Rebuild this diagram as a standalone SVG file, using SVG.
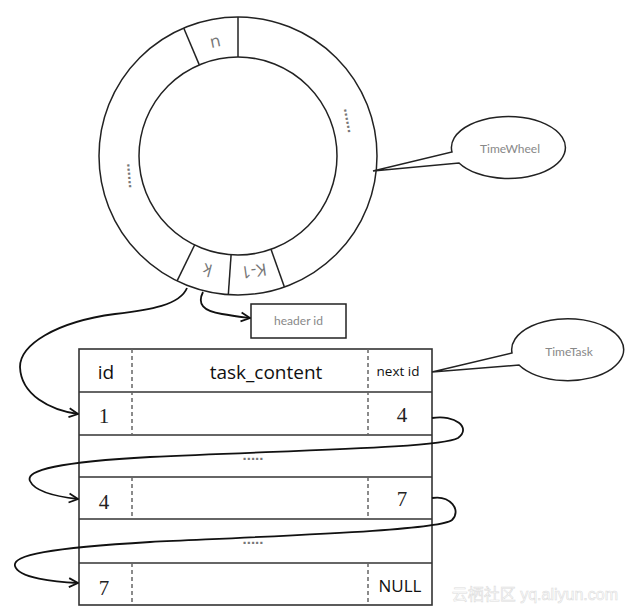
<svg xmlns="http://www.w3.org/2000/svg" width="627" height="615" viewBox="0 0 627 615">
<style>
.ln{fill:none;stroke:#222;stroke-width:1.5}
.tb{fill:none;stroke:#333;stroke-width:1.6}
.dash{stroke:#666;stroke-width:1.5;stroke-dasharray:4 3}
.lbl{font-family:Lato,"Open Sans",sans-serif;font-size:12px;fill:#888;text-anchor:middle}
.seg{font-family:"Open Sans","Liberation Sans",sans-serif;font-size:17px;fill:#777;text-anchor:middle}
.hd{font-family:"Open Sans","Liberation Sans",sans-serif;fill:#111;text-anchor:middle}
.num{font-family:"Liberation Serif",serif;font-size:21px;fill:#222;text-anchor:middle}
.dots{font-family:"Liberation Sans",sans-serif;font-size:15px;font-weight:bold;fill:#777;text-anchor:middle}
.conn{fill:none;stroke:#111;stroke-width:1.8}
</style>
<defs>
<marker id="arr" viewBox="0 0 12 12" refX="11" refY="6" markerWidth="12" markerHeight="12" markerUnits="userSpaceOnUse" orient="auto">
<path d="M2,1.5 L11,6 L2,10.5" fill="none" stroke="#111" stroke-width="1.8"/>
</marker>
</defs>
<rect width="627" height="615" fill="#fff"/>

<g id="timewheel">
<circle class="ln" cx="238" cy="156" r="139"/>
<circle class="ln" cx="238" cy="156" r="99"/>
<line class="ln" x1="238" y1="57" x2="238" y2="17"/>
<line class="ln" x1="199.3" y1="64.9" x2="183.7" y2="28"/>
<line class="ln" x1="194.6" y1="245" x2="177.1" y2="280.9"/>
<line class="ln" x1="231.1" y1="254.8" x2="228.3" y2="294.7"/>
<line class="ln" x1="271" y1="249.3" x2="284.4" y2="287"/>
<text class="seg" transform="translate(215,41) rotate(-12)" y="6">n</text>
<text class="seg" transform="translate(207.5,270) rotate(195)" y="6">k</text>
<text class="seg" transform="translate(254,271) rotate(172)" y="6">K-1</text>
<text class="dots" transform="translate(346,121) rotate(80)" y="0">......</text>
<text class="dots" transform="translate(128,176) rotate(85)" y="0">......</text>
</g>

<g id="timewheel-callout">
<path class="ln" d="M452,152 A57,31 0 1 1 459,163 L373,171 Z" fill="#fff"/>
<text class="lbl" x="510" y="153">TimeWheel</text>
</g>

<g id="header-id">
<rect class="ln" x="251" y="304" width="95" height="34" stroke-width="1.3"/>
<text class="lbl" x="298.5" y="325">header id</text>
</g>

<g id="timetask-table">
<rect class="tb" x="79" y="349" width="353" height="256"/>
<line class="tb" x1="79" y1="392" x2="432" y2="392"/>
<line class="tb" x1="79" y1="435" x2="432" y2="435"/>
<line class="tb" x1="79" y1="477" x2="432" y2="477"/>
<line class="tb" x1="79" y1="519" x2="432" y2="519"/>
<line class="tb" x1="79" y1="563" x2="432" y2="563"/>
<line class="dash" x1="132" y1="349" x2="132" y2="435"/>
<line class="dash" x1="368" y1="349" x2="368" y2="435"/>
<line class="dash" x1="132" y1="477" x2="132" y2="519"/>
<line class="dash" x1="368" y1="477" x2="368" y2="519"/>
<line class="dash" x1="132" y1="563" x2="132" y2="605"/>
<line class="dash" x1="368" y1="563" x2="368" y2="605"/>
<text class="hd" x="106" y="379" font-size="19">id</text>
<text class="hd" x="266" y="379" font-size="19">task_content</text>
<text class="hd" x="398" y="376" font-size="13.5">next id</text>
<text class="num" x="104" y="423">1</text>
<text class="num" x="402" y="422">4</text>
<text class="dots" x="253" y="460">.....</text>
<text class="num" x="104" y="509">4</text>
<text class="num" x="402" y="506">7</text>
<text class="dots" x="253" y="544">.....</text>
<text class="num" x="104" y="595">7</text>
<text class="hd" x="400" y="592" font-size="17">NULL</text>
</g>

<g id="timetask-callout">
<path class="ln" d="M512,353 A56,31 0 1 1 519,365 L432,372 Z" fill="#fff"/>
<text class="lbl" x="569" y="356">TimeTask</text>
</g>

<g id="connectors">
<path class="conn" marker-end="url(#arr)" d="M203,292 C197,304 203,311 222,314 C233,316 242,317 250,318"/>
<path class="conn" marker-end="url(#arr)" d="M187,288 C180,305 150,310 115,314 C55,322 20,345 20,367 C21,395 50,410 78,414"/>
<path class="conn" marker-end="url(#arr)" d="M432,418 C455,414 472,428 458,438 C440,448 300,450 150,457 C60,462 25,470 30,481 C35,492 60,497 78,499"/>
<path class="conn" marker-end="url(#arr)" d="M432,498 C450,495 462,510 452,520 C440,530 300,535 150,542 C50,548 12,555 15,566 C18,578 55,582 78,583"/>
</g>

<g id="watermark">
<text x="618" y="600" text-anchor="end" font-family="'Liberation Sans','Noto Sans CJK SC',sans-serif" font-size="16" fill="#fff" stroke="#ddd" stroke-width="0.6">云栖社区 yq.aliyun.com</text>
</g>
</svg>
